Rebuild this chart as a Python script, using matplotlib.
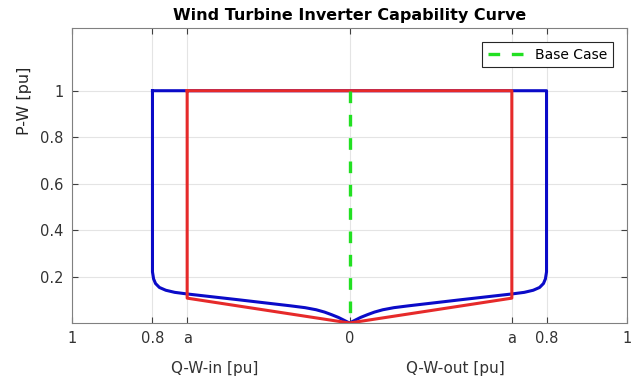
import matplotlib
matplotlib.use("Agg")
import matplotlib.pyplot as plt
import numpy as np

# left half of the curves (Q-W-in side), mirrored for the out side
blue_q = [-0.71, -0.71, -0.706, -0.699, -0.685, -0.662, -0.630, -0.585, -0.40, -0.213,
          -0.16, -0.12, -0.09, -0.065, -0.04, -0.02, 0.0]
blue_p = [1.0, 0.22, 0.19, 0.17, 0.153, 0.141, 0.132, 0.125, 0.100, 0.074,
          0.066, 0.057, 0.047, 0.036, 0.024, 0.012, 0.0]
red_q = [-0.585, -0.585, 0.0]
red_p = [1.0, 0.107, 0.0]
base_q = [0, 0]
base_p = [1, 0]

xtick_pos = [-1, -0.71, -0.585, 0, 0.585, 0.71, 1]
xtick_lab = ["1", "0.8", "a", "0", "a", "0.8", "1"]
ytick_pos = [0.2, 0.4, 0.6, 0.8, 1.0]
ytick_lab = ["0.2", "0.4", "0.6", "0.8", "1"]


def mirror(q, p):
    # mirror the left half and close the shape along the top
    q = np.array(q)
    p = np.array(p)
    qq = np.concatenate([q, -q[::-1], q[:1]])
    pp = np.concatenate([p, p[::-1], p[:1]])
    return qq, pp


fig = plt.figure(figsize=(6.35, 3.82), dpi=100)
ax = fig.add_axes([72 / 635, 59 / 382, 555 / 635, 295 / 382])

bq, bp = mirror(blue_q, blue_p)
rq, rp = mirror(red_q, red_p)
ax.plot(bq, bp, color="#0b0bc8", lw=2.2, solid_joinstyle="round")
ax.plot(rq, rp, color="#e62a2a", lw=2.2)
ax.plot(base_q, base_p, color="#22e022", lw=2.4, ls=(0, (3.5, 3.5)), label="Base Case")

ax.set_xlim(-1, 1)
ax.set_ylim(0, 1.27)
ax.set_xticks(xtick_pos)
ax.set_xticklabels(xtick_lab)
ax.set_yticks(ytick_pos)
ax.set_yticklabels(ytick_lab)
ax.tick_params(direction="in", top=True, right=True, length=4, colors="#404040",
               labelsize=10.5, labelcolor="#333333", pad=6)
ax.grid(True, color="#e4e4e4", lw=0.8)
ax.set_axisbelow(True)
for s in ax.spines.values():
    s.set_color("#808080")

ax.set_title("Wind Turbine Inverter Capability Curve", fontsize=11.5, fontweight="bold", pad=6)
fig.text(25 / 635, 1 - 101 / 382, "P-W [pu]", rotation=90, ha="center", va="center",
         fontsize=11.5, color="#262626")
fig.text(215 / 635, 1 - 368 / 382, "Q-W-in [pu]", ha="center", va="center", fontsize=11, color="#333333")
fig.text(455 / 635, 1 - 368 / 382, "Q-W-out [pu]", ha="center", va="center", fontsize=11, color="#333333")

leg = ax.legend(loc="upper right", bbox_to_anchor=(1 - 14 / 555, 1 - 14 / 295), fontsize=10,
                fancybox=False, framealpha=1, borderaxespad=0, handlelength=2.6)
leg.get_frame().set_edgecolor("#262626")
leg.get_frame().set_linewidth(0.8)

fig.savefig("out.png", dpi=100)
